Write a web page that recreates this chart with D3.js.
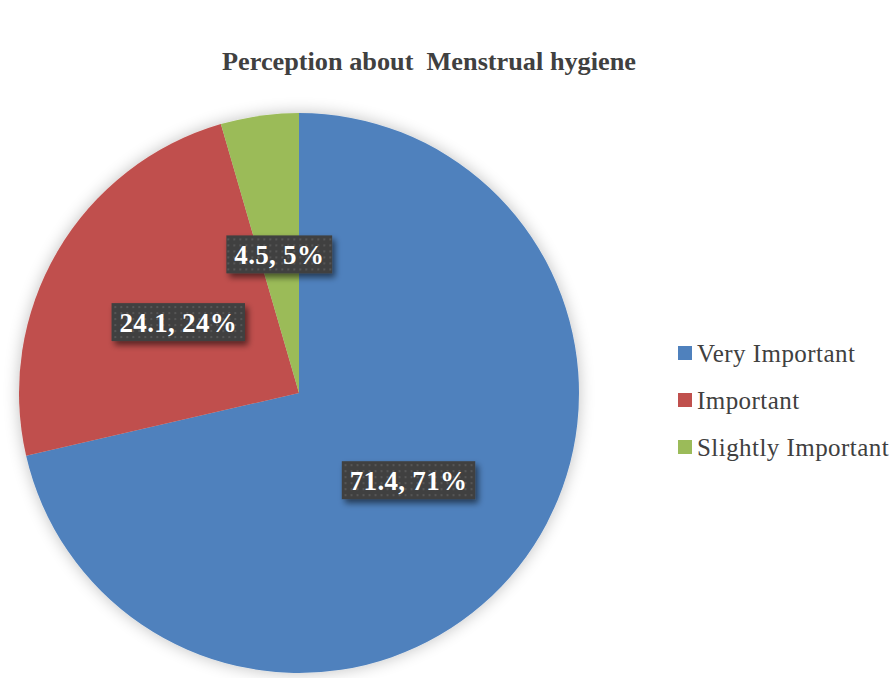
<!DOCTYPE html>
<html><head><meta charset="utf-8">
<script src="https://cdn.jsdelivr.net/npm/d3@7"></script>
<style>body{margin:0;background:#fff}svg{display:block}</style>
</head><body>
<script>
const categories = ["Very Important", "Important", "Slightly Important"];
const values = [71.4, 24.1, 4.5];
const percentLabels = ["71%", "24%", "5%"];
const colors = ["#4F81BD", "#C0504D", "#9BBB59"];
const title = "Perception about\u00A0 Menstrual hygiene";

const W = 894, H = 678;
const cx = 299, cy = 393, R = 280;
const svg = d3.select("body").append("svg").attr("width", W).attr("height", H);
const defs = svg.append("defs");

const pat = defs.append("pattern").attr("id", "dots").attr("patternUnits", "userSpaceOnUse")
  .attr("width", 6).attr("height", 6);
pat.append("rect").attr("width", 6).attr("height", 6).attr("fill", "#404040");
pat.append("rect").attr("x", 2).attr("y", 2).attr("width", 2).attr("height", 2).attr("fill", "#565656");

const sh = defs.append("filter").attr("id", "boxShadow").attr("x", "-20%").attr("y", "-30%").attr("width", "150%").attr("height", "180%");
sh.append("feGaussianBlur").attr("in", "SourceAlpha").attr("stdDeviation", 3).attr("result", "b");
sh.append("feOffset").attr("in", "b").attr("dx", 3).attr("dy", 4).attr("result", "o");
sh.append("feComponentTransfer").attr("in", "o").attr("result", "o2")
  .append("feFuncA").attr("type", "linear").attr("slope", 0.55);
const m1 = sh.append("feMerge");
m1.append("feMergeNode").attr("in", "o2");
m1.append("feMergeNode").attr("in", "SourceGraphic");

const ps = defs.append("filter").attr("id", "pieShadow").attr("x", "-10%").attr("y", "-10%").attr("width", "120%").attr("height", "120%");
ps.append("feGaussianBlur").attr("in", "SourceAlpha").attr("stdDeviation", 8).attr("result", "b");
ps.append("feComponentTransfer").attr("in", "b").attr("result", "o2")
  .append("feFuncA").attr("type", "linear").attr("slope", 0.25);
const m2 = ps.append("feMerge");
m2.append("feMergeNode").attr("in", "o2");
m2.append("feMergeNode").attr("in", "SourceGraphic");

svg.append("text").attr("x", 429).attr("y", 70).attr("text-anchor", "middle")
  .attr("font-family", "'Liberation Serif', 'DejaVu Serif', serif").attr("font-weight", "bold")
  .attr("font-size", 25).attr("fill", "#404040").attr("textLength", 414).attr("lengthAdjust", "spacingAndGlyphs")
  .text(title);

const data = categories.map((c, i) => ({cat: c, v: values[i], p: percentLabels[i], col: colors[i]}));
const pie = d3.pie().sort(null).value(d => d.v);
const arcs = pie(data);
const arc = d3.arc().innerRadius(0).outerRadius(R);

const g = svg.append("g").attr("transform", `translate(${cx},${cy})`);
g.append("g").attr("filter", "url(#pieShadow)").selectAll("path").data(arcs).join("path")
  .attr("d", arc).attr("fill", d => d.data.col);

const lab = g.selectAll("g.lab").data(arcs).join("g").attr("class", "lab")
  .attr("transform", d => `translate(${arc.centroid(d)})`);
lab.each(function(d) {
  const s = d3.select(this);
  const t = s.append("text").attr("text-anchor", "middle").attr("dy", "0.35em")
    .attr("font-family", "'Liberation Serif', 'DejaVu Serif', serif").attr("font-weight", "bold")
    .attr("font-size", 27).attr("letter-spacing", 0.3).attr("fill", "#fff").text(`${d.data.v}, ${d.data.p}`);
  const bb = t.node().getBBox();
  s.insert("rect", "text").attr("x", bb.x - 8).attr("y", -19).attr("width", bb.width + 16).attr("height", 38)
    .attr("fill", "url(#dots)").attr("filter", "url(#boxShadow)");
});

const leg = svg.append("g").selectAll("g").data(data).join("g")
  .attr("transform", (d, i) => `translate(678, ${353 + i * 47})`);
leg.append("rect").attr("x", 0).attr("y", -7).attr("width", 14).attr("height", 14).attr("fill", d => d.col);
leg.append("text").attr("x", 19).attr("y", 0).attr("dy", "0.35em")
  .attr("font-family", "'Liberation Serif', 'DejaVu Serif', serif").attr("font-size", 25).attr("letter-spacing", 0.45).attr("fill", "#404040")
  .text(d => d.cat);
</script>
</body></html>
